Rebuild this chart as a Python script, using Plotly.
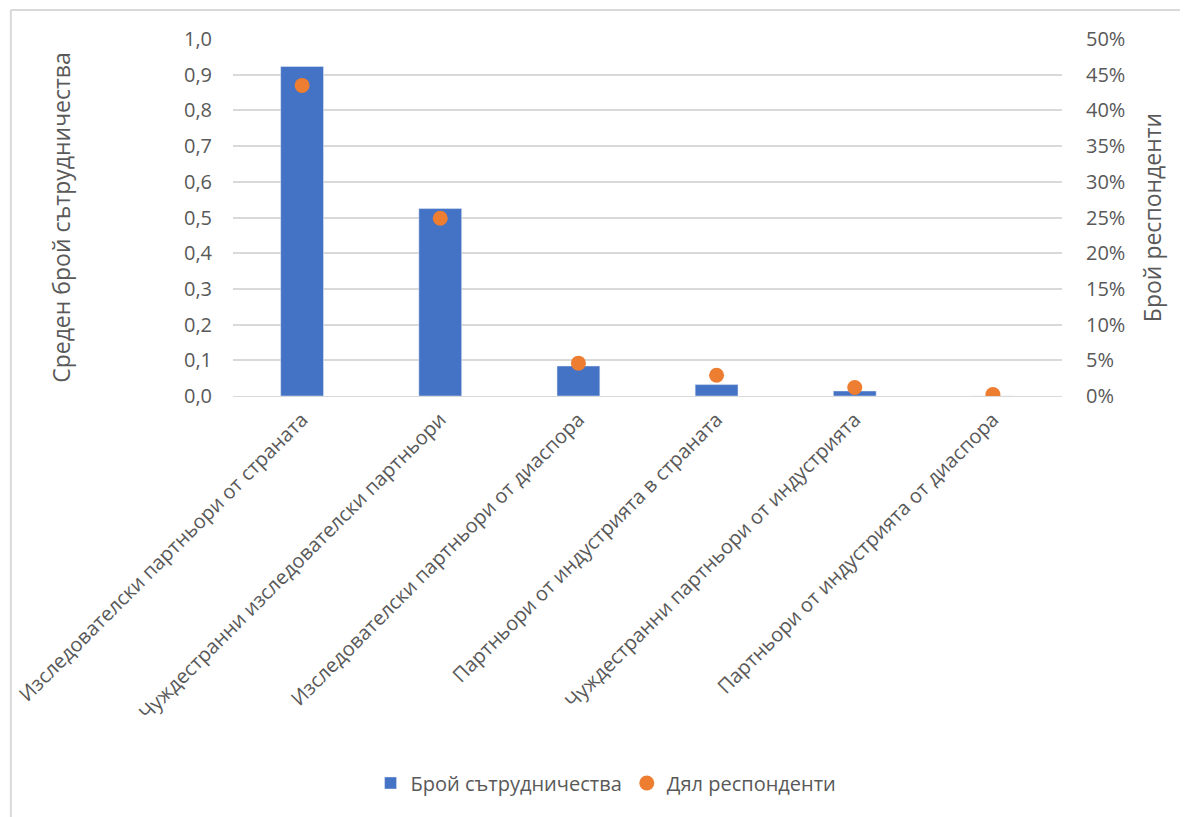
import plotly.graph_objects as go

categories = [
    "Изследователски партньори от страната",
    "Чуждестранни изследователски партньори",
    "Изследователски партньори от диаспора",
    "Партньори от индустрията в страната",
    "Чуждестранни партньори от индустрията",
    "Партньори от индустрията от диаспора",
]
avg_collab = [0.923, 0.525, 0.084, 0.032, 0.014, 0.0]
share_resp = [0.435, 0.249, 0.046, 0.029, 0.012, 0.002]

font = "Open Sans, Noto Sans, sans-serif"
grey = "#595959"

fig = go.Figure()
fig.add_trace(go.Bar(x=categories, y=avg_collab, name="Брой сътрудничества",
                     marker=dict(color="#4472C4"), width=0.31))
fig.add_trace(go.Scatter(x=categories, y=share_resp, name="Дял респонденти", yaxis="y2",
                         mode="markers", marker=dict(color="#ED7D31", size=15)))

# page body has an 8px margin, so the figure is a bit smaller than the window
fig.update_layout(
    width=1180, height=809,
    margin=dict(l=225, r=126, t=31, b=421),
    paper_bgcolor="white", plot_bgcolor="white",
    separators=", ",
    font=dict(family=font, color=grey, size=20),
    showlegend=True,
    legend=dict(orientation="h", x=0.45, xanchor="center", y=-1.084, yanchor="middle",
                font=dict(size=20), traceorder="normal", itemwidth=30),
    xaxis=dict(tickangle=-45, tickfont=dict(size=20), showgrid=False, automargin=False,
               showline=True, linecolor="#d9d9d9", ticks="", ticklabelstandoff=3),
    yaxis=dict(range=[0, 1.0], dtick=0.1, tickformat=".1f", showgrid=True, automargin=False,
               gridcolor="#d9d9d9", gridwidth=1.5, zeroline=False, ticks="",
               tickfont=dict(size=20), ticklabelstandoff=20,
               title=dict(text="Среден брой сътрудничества", font=dict(size=23), standoff=106)),
    yaxis2=dict(range=[0, 0.5], dtick=0.05, tickformat=".0%", overlaying="y", side="right",
                showgrid=False, zeroline=False, ticks="", tickfont=dict(size=20), automargin=False,
                ticklabelstandoff=23,
                title=dict(text="Брой респонденти", font=dict(size=23), standoff=20)),
    shapes=[
        dict(type="line", xref="paper", yref="paper", x0=-0.268, x1=1.3, y0=1.081, y1=1.081,
             line=dict(color="#d9d9d9", width=2)),
        dict(type="line", xref="paper", yref="paper", x0=-0.268, x1=-0.268, y0=1.081, y1=-1.3,
             line=dict(color="#d9d9d9", width=2)),
    ],
)

fig.write_html("out.html")
